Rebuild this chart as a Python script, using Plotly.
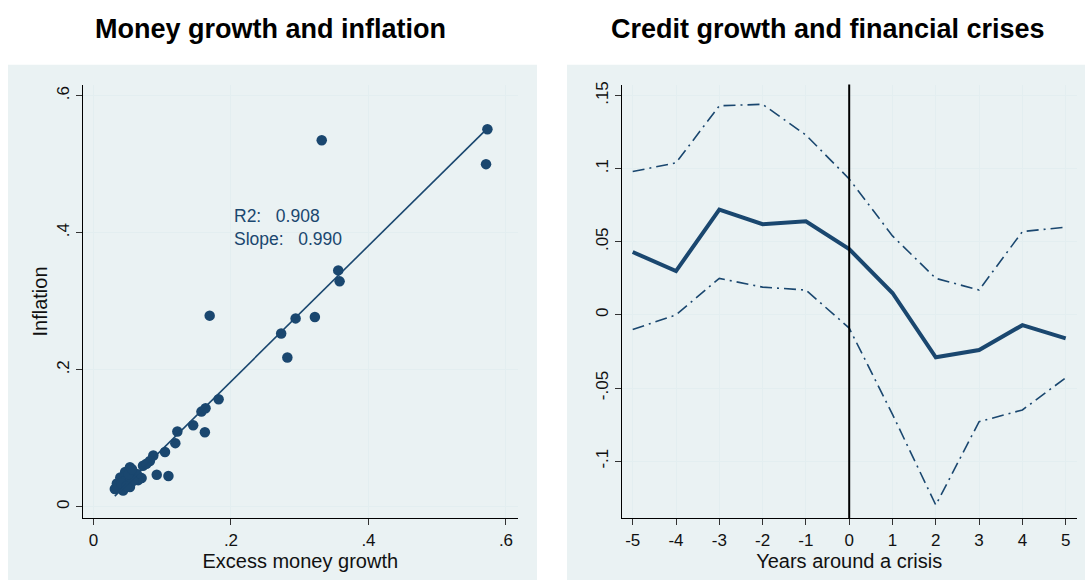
import plotly.graph_objects as go

# ---------------- Data ----------------
# Left panel: excess money growth vs inflation
money_growth = [0.573, 0.571, 0.332, 0.169, 0.273, 0.294, 0.322, 0.282, 0.356, 0.358,
                0.182, 0.157, 0.163, 0.145, 0.162, 0.122, 0.119, 0.104, 0.087, 0.082,
                0.092, 0.109, 0.072, 0.077, 0.070, 0.065, 0.053, 0.046, 0.063, 0.039,
                0.034, 0.031, 0.043, 0.053, 0.058, 0.046, 0.051, 0.041, 0.056, 0.048]
inflation = [0.551, 0.500, 0.535, 0.279, 0.253, 0.275, 0.277, 0.218, 0.345, 0.329,
             0.157, 0.139, 0.144, 0.119, 0.109, 0.110, 0.093, 0.080, 0.075, 0.067,
             0.047, 0.045, 0.060, 0.063, 0.042, 0.039, 0.058, 0.051, 0.048, 0.043,
             0.034, 0.026, 0.024, 0.029, 0.038, 0.038, 0.048, 0.034, 0.055, 0.030]
fit_slope = 0.990
fit_intercept = -0.015
fit_r2 = 0.908
fit_x = [min(money_growth), max(money_growth)]
fit_y = [fit_intercept + fit_slope * v for v in fit_x]

left_xticks = [0, 0.2, 0.4, 0.6]
left_xtick_labels = ["0", ".2", ".4", ".6"]
left_yticks = [0, 0.2, 0.4, 0.6]
left_ytick_labels = ["0", ".2", ".4", ".6"]

# Right panel: credit growth around financial crises
years = [-5, -4, -3, -2, -1, 0, 1, 2, 3, 4, 5]
credit_mean = [0.043, 0.030, 0.072, 0.062, 0.064, 0.045, 0.015, -0.029, -0.024, -0.007, -0.016]
credit_upper = [0.098, 0.104, 0.143, 0.144, 0.123, 0.093, 0.054, 0.025, 0.017, 0.057, 0.060]
credit_lower = [-0.010, 0.000, 0.025, 0.019, 0.017, -0.009, -0.068, -0.130, -0.073, -0.065, -0.043]

right_yticks = [-0.1, -0.05, 0, 0.05, 0.1, 0.15]
right_ytick_labels = ["-.1", "-.05", "0", ".05", ".1", ".15"]

# ---------------- Style ----------------
NAVY = "#1a476f"
BG = "#eaf2f3"
GRID = "#e3eef0"
FONT = "Liberation Sans, Arial, sans-serif"
W, H = 1085, 583

def px(x):
    return x / W

def py(y):
    return 1 - y / H

fig = go.Figure()

fig.add_trace(go.Scatter(
    x=money_growth, y=inflation, mode="markers",
    marker=dict(color=NAVY, size=10.5, line=dict(width=0)),
    xaxis="x", yaxis="y", showlegend=False))
fig.add_trace(go.Scatter(
    x=fit_x, y=fit_y, mode="lines",
    line=dict(color=NAVY, width=1.6),
    xaxis="x", yaxis="y", showlegend=False))

fig.add_trace(go.Scatter(
    x=years, y=credit_upper, mode="lines",
    line=dict(color=NAVY, width=1.6, dash="12px,5px,2px,5px"),
    xaxis="x2", yaxis="y2", showlegend=False))
fig.add_trace(go.Scatter(
    x=years, y=credit_lower, mode="lines",
    line=dict(color=NAVY, width=1.6, dash="12px,5px,2px,5px"),
    xaxis="x2", yaxis="y2", showlegend=False))
fig.add_trace(go.Scatter(
    x=years, y=credit_mean, mode="lines",
    line=dict(color=NAVY, width=4),
    xaxis="x2", yaxis="y2", showlegend=False))

axis_common = dict(
    showline=True, linecolor="#000000", linewidth=1,
    ticks="outside", ticklen=6, tickcolor="#333333", tickwidth=1,
    showgrid=True, gridcolor=GRID, gridwidth=1,
    zeroline=False, tickfont=dict(family=FONT, size=17, color="#111111"),
    mirror=False,
)

ydom = [py(518), py(82)]

fig.update_layout(
    width=W, height=H,
    margin=dict(l=0, r=0, t=0, b=0),
    paper_bgcolor="white", plot_bgcolor="white",
    font=dict(family=FONT, color="#111111"),
    xaxis=dict(domain=[px(82.5), px(518)], range=[-0.016, 0.6175],
               tickmode="array", tickvals=left_xticks, ticktext=left_xtick_labels,
               title=dict(text="Excess money growth", font=dict(family=FONT, size=20, color="#111111"), standoff=2),
               anchor="y", **axis_common),
    yaxis=dict(domain=ydom, range=[-0.0167, 0.6161],
               tickmode="array", tickvals=left_yticks, ticktext=left_ytick_labels, tickangle=-90,
               title=dict(text="Inflation", font=dict(family=FONT, size=20, color="#111111"), standoff=0),
               anchor="x", **axis_common),
    xaxis2=dict(domain=[px(621.7), px(1076.7)], range=[-5.254, 5.254],
                tickmode="array", tickvals=years, ticktext=[str(v) for v in years],
                title=dict(text="Years around a crisis", font=dict(family=FONT, size=20, color="#111111"), standoff=1),
                anchor="y2", **axis_common),
    yaxis2=dict(domain=ydom, range=[-0.1391, 0.1575],
                tickmode="array", tickvals=right_yticks, ticktext=right_ytick_labels, tickangle=-90,
                anchor="x2", **axis_common),
)

# Panel backgrounds
fig.add_shape(type="rect", xref="paper", yref="paper",
              x0=px(8), x1=px(537), y0=py(580), y1=py(62),
              fillcolor=BG, line=dict(width=0), layer="below")
fig.add_shape(type="rect", xref="paper", yref="paper",
              x0=px(567), x1=px(1085), y0=py(580), y1=py(62),
              fillcolor=BG, line=dict(width=0), layer="below")

# Crisis line at year 0
fig.add_shape(type="line", xref="x2", yref="y2 domain", x0=0, x1=0, y0=0, y1=1,
              line=dict(color="#000000", width=2), layer="above")

# Regression annotation
fig.add_annotation(
    x=0.202, y=0.407, xref="x", yref="y", xanchor="left", yanchor="middle",
    text=f"R2:&nbsp;&nbsp;&nbsp;{fit_r2:.3f}<br>Slope:&nbsp;&nbsp;&nbsp;{fit_slope:.3f}",
    showarrow=False, align="left",
    font=dict(family=FONT, size=17.5, color=NAVY))

# Titles
fig.add_annotation(x=px(270), y=py(26), xref="paper", yref="paper",
                   text="<b>Money growth and inflation</b>", showarrow=False,
                   xanchor="center", yanchor="middle",
                   font=dict(family=FONT, size=27, color="#000000"))
fig.add_annotation(x=px(828), y=py(26), xref="paper", yref="paper",
                   text="<b>Credit growth and financial crises</b>", showarrow=False,
                   xanchor="center", yanchor="middle",
                   font=dict(family=FONT, size=27, color="#000000"))

fig.write_html("out.html")
